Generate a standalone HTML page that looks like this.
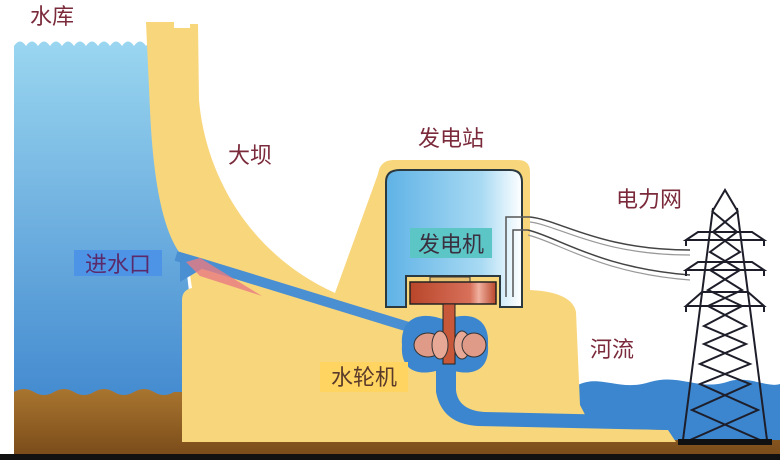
<!DOCTYPE html>
<html><head><meta charset="utf-8"><style>
html,body{margin:0;padding:0;background:#fff;}
svg{display:block}
text{font-family:"Liberation Sans","Noto Sans CJK SC",sans-serif;}
</style></head><body>
<svg width="780" height="464" viewBox="0 0 780 464" xmlns="http://www.w3.org/2000/svg">
<defs>
<linearGradient id="res" x1="0" y1="0" x2="0" y2="1"><stop offset="0" stop-color="#9ad6f0"/><stop offset="1" stop-color="#3a82cc"/></linearGradient>
<linearGradient id="gnd" x1="0" y1="0" x2="0" y2="1"><stop offset="0" stop-color="#a9752f"/><stop offset="1" stop-color="#7a4c1a"/></linearGradient>
<linearGradient id="gen" x1="0" y1="0" x2="1" y2="0"><stop offset="0" stop-color="#5fb2e6"/><stop offset="0.7" stop-color="#a8daf3"/><stop offset="1" stop-color="#ffffff"/></linearGradient>
<linearGradient id="rot" x1="0" y1="0" x2="1" y2="0"><stop offset="0" stop-color="#b8462a"/><stop offset="0.7" stop-color="#d8705a"/><stop offset="0.8" stop-color="#f0b0a0"/><stop offset="1" stop-color="#b8462a"/></linearGradient>
</defs>
<!-- reservoir -->
<path d="M14,46 q6,-9 12,0 q6,-9 12,0 q6,-9 12,0 q6,-9 12,0 q6,-9 12,0 q6,-9 12,0 q6,-9 12,0 q6,-9 12,0 q6,-9 12,0 q6,-9 12,0 q6,-9 12,0 q6,-9 12,0 L160,44 L190,300 L190,440 L14,440 Z" fill="url(#res)"/>
<!-- ground -->
<path d="M14,392 q10,-6 20,0 q10,6 20,0 q10,-6 20,0 q10,6 20,0 q10,-6 20,0 q10,6 20,0 q10,-6 20,0 q10,6 20,0 L190,392 L190,428 L780,428 L780,455 L14,455 Z" fill="url(#gnd)"/>
<!-- river -->
<path d="M578,385 C600,374 620,392 650,382 C680,373 700,392 730,381 C750,376 768,388 780,384 V440 H670 L660,428 H580 Z" fill="#3b86cf"/>
<!-- yellow structure -->
<path d="M146,22 H174 V28 H190 V24 H198 L199,100 C205,170 245,252 335,293 L378,174 Q380,160 394,160 H518 Q530,160 530,172 V290 Q572,292 576,312 L580,405 L592,428 L668,430 L676,442 H182 V300 Q182,290 192,288 L188,262 C168,245 154,200 150,110 Z" fill="#f8d67c"/>
<!-- penstock -->
<path d="M176,256 L200,263 L412,328" fill="none" stroke="#4a8fd2" stroke-width="10"/>
<path d="M180,252 L210,264 L180,282 Z" fill="#4a8fd2"/>
<path d="M186,262 L200,258 L262,296 L200,276 Z" fill="#e87a82" opacity="0.8"/>
<!-- draft tube -->
<path d="M436,360 L436,392 Q442,424 478,426 L668,430 L664,416 L484,412 Q458,410 456,390 L456,360 Z" fill="#3b86cf"/>
<!-- turbine chamber -->
<path d="M445,320 C470,310 490,318 488,345 C490,372 470,378 445,368 C420,378 400,372 402,345 C400,318 420,310 445,320 Z" fill="#3b86cf"/>
<!-- generator housing -->
<path d="M386,182 Q386,170 400,170 H510 Q522,170 522,182 V307 H500 V276 H406 V307 H386 Z" fill="url(#gen)" stroke="#2b3a40" stroke-width="2"/>
<rect x="410" y="228" width="82" height="30" fill="#5cc5c6"/>
<text x="451" y="252" font-size="22" fill="#3a3040" text-anchor="middle">发电机</text>
<!-- wires -->
<path d="M506,297 V217 H530 M513,297 V230 H528" fill="none" stroke="#555" stroke-width="1.5"/>
<path d="M530,217 C560,220 600,250 690,250 M528,230 C560,238 600,268 690,275" fill="none" stroke="#444" stroke-width="1.5"/>
<path d="M530,222 C560,226 600,255 690,255 M528,235 C560,243 600,273 690,280" fill="none" stroke="#999" stroke-width="1.2"/>
<!-- rotor -->
<rect x="430" y="277" width="40" height="6" fill="#e8c070" stroke="#333"/>
<rect x="410" y="282" width="86" height="22" fill="url(#rot)" stroke="#222" stroke-width="1.5"/>
<rect x="443" y="304" width="12" height="60" fill="#c8583a" stroke="#222"/>
<ellipse cx="428" cy="345" rx="14" ry="12" fill="#e09a88" stroke="#333"/>
<ellipse cx="440" cy="345" rx="8" ry="14" fill="#e8a896" stroke="#333"/>
<ellipse cx="462" cy="345" rx="8" ry="14" fill="#e8a896" stroke="#333"/>
<ellipse cx="474" cy="345" rx="12" ry="12" fill="#e09a88" stroke="#333"/>
<!-- labels -->
<rect x="74" y="250" width="88" height="26" fill="#4d94e6"/>
<text x="118" y="272" font-size="22" fill="#5a2a6a" text-anchor="middle">进水口</text>
<rect x="320" y="362" width="88" height="30" fill="#ffd460"/>
<text x="364" y="385" font-size="22" fill="#5a3a2a" text-anchor="middle">水轮机</text>
<text x="30" y="24" font-size="22" fill="#7a2a3a">水库</text>
<text x="228" y="163" font-size="22" fill="#7a2a3a">大坝</text>
<text x="418" y="146" font-size="22" fill="#7a2a3a">发电站</text>
<text x="616" y="207" font-size="22" fill="#7a2a3a">电力网</text>
<text x="590" y="357" font-size="22" fill="#7a2a3a">河流</text>
<!-- tower -->
<g fill="none" stroke="#1e1e2a" stroke-width="2">
<path d="M712,212 L725,190 L738,212"/>
<path d="M713,208 L683,440 M737,208 L767,440"/>
<path d="M686,240 H764 L752,232 H698 Z M686,270 H764 L752,262 H698 Z M686,306 H764 L748,292 H702 Z"/>
<path d="M713,212 L737,232 L710,252 L740,270 L708,290 L742,306 L704,326 L746,344 L700,364 L750,384 L692,410 L760,440 M737,212 L713,232 L740,252 L710,270 L742,290 L708,306 L746,326 L704,344 L750,364 L700,384 L758,410 L690,440"/>
<path d="M686,240 l0,6 M764,240 l0,6 M686,270 l0,6 M764,270 l0,6 M686,306 l0,6 M764,306 l0,6"/>
</g>
<rect x="678" y="439" width="94" height="6" fill="#111"/>
<rect x="0" y="454" width="780" height="6" fill="#111"/>
</svg>
</body></html>
